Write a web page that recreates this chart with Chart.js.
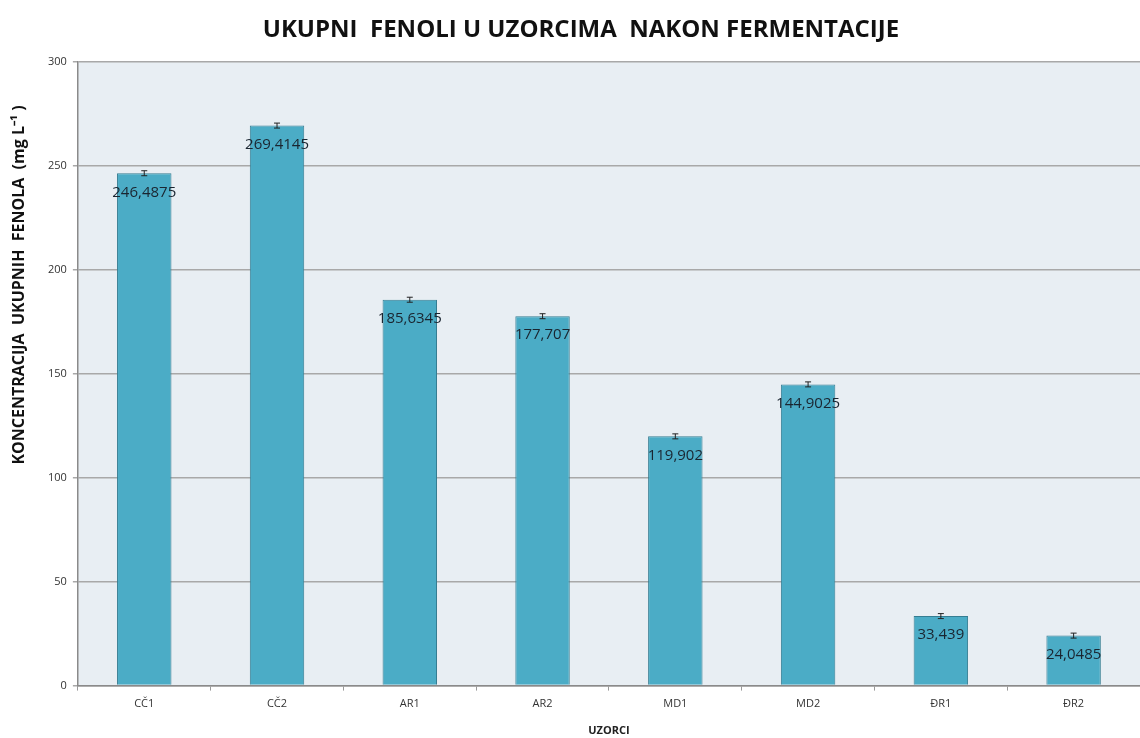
<!DOCTYPE html>
<html>
<head>
<meta charset="utf-8">
<script src="https://cdn.jsdelivr.net/npm/chart.js@4"></script>
<style>
  html, body { margin: 0; padding: 0; background: #fff; }
  #wrap { width: 1140px; height: 738px; position: relative; }
</style>
</head>
<body>
<div id="wrap"><canvas id="phenolChart" width="1140" height="738"></canvas></div>
<script>
const samples = ['CČ1', 'CČ2', 'AR1', 'AR2', 'MD1', 'MD2', 'ĐR1', 'ĐR2'];
const phenols = [246.4875, 269.4145, 185.6345, 177.707, 119.902, 144.9025, 33.439, 24.0485];
const errors = [1.2, 1.2, 1.2, 1.2, 1.2, 1.2, 1.2, 1.2];
const valueLabels = ['246,4875', '269,4145', '185,6345', '177,707', '119,902', '144,9025', '33,439', '24,0485'];
const chartTitle = 'UKUPNI  FENOLI U UZORCIMA  NAKON FERMENTACIJE';
const yTitle = 'KONCENTRACIJA  UKUPNIH  FENOLA  (mg L⁻¹ )';

// light plot background
const plotBg = {
  id: 'plotBg',
  beforeDraw(chart) {
    const { ctx, chartArea: a } = chart;
    ctx.save();
    ctx.fillStyle = '#e8eef3';
    ctx.fillRect(a.left, a.top, a.right - a.left, a.bottom - a.top);
    ctx.restore();
  }
};

// titles are placed off-centre in the original, so draw them by hand
const titles = {
  id: 'titles',
  afterDraw(chart) {
    const { ctx } = chart;
    ctx.save();
    ctx.fillStyle = '#111';
    ctx.textAlign = 'center';
    ctx.textBaseline = 'middle';
    ctx.font = 'bold 24px "Open Sans"';
    ctx.fillText(chartTitle, 581, 30);

    ctx.translate(19, 285);
    ctx.rotate(-Math.PI / 2);
    ctx.font = 'bold 16px "Open Sans"';
    ctx.fillText(yTitle, 0, 0);
    ctx.restore();
  }
};

// error bars + value labels
const barExtras = {
  id: 'barExtras',
  afterDatasetsDraw(chart) {
    const { ctx } = chart;
    const y = chart.scales.y;
    const meta = chart.getDatasetMeta(0);
    ctx.save();
    meta.data.forEach((bar, i) => {
      const top = y.getPixelForValue(phenols[i] + errors[i]);
      const bot = y.getPixelForValue(phenols[i] - errors[i]);
      ctx.strokeStyle = '#222';
      ctx.lineWidth = 1;
      ctx.beginPath();
      ctx.moveTo(bar.x, top); ctx.lineTo(bar.x, bot);
      ctx.moveTo(bar.x - 3, top); ctx.lineTo(bar.x + 3, top);
      ctx.moveTo(bar.x - 3, bot); ctx.lineTo(bar.x + 3, bot);
      ctx.stroke();

      ctx.fillStyle = '#1a2530';
      ctx.font = '15px "Open Sans"';
      ctx.textAlign = 'center';
      ctx.textBaseline = 'middle';
      ctx.fillText(valueLabels[i], bar.x, bar.y + 19);
    });
    ctx.restore();
  }
};

const canvas = document.getElementById('phenolChart');
const ctx = canvas.getContext('2d');

new Chart(ctx, {
  type: 'bar',
  data: {
    labels: samples,
    datasets: [{
      data: phenols,
      backgroundColor: '#4bacc6',
      borderColor: '#357d92',
      borderWidth: 1,
      categoryPercentage: 1,
      barPercentage: 0.41
    }]
  },
  options: {
    responsive: false,
    animation: false,
    layout: { padding: { top: 62, right: 0, left: 42, bottom: 1 } },
    plugins: {
      legend: { display: false },
      tooltip: { enabled: false },
      title: { display: false }
    },
    scales: {
      x: {
        grid: { display: true, drawOnChartArea: false, color: '#9a9a9a', tickLength: 5, offset: true },
        border: { color: '#8a8a8a', width: 1.5 },
        ticks: { color: '#333', font: { family: 'Open Sans', size: 11 }, padding: 7 },
        title: {
          display: true,
          text: 'UZORCI',
          color: '#222',
          font: { family: 'Open Sans', size: 11, weight: 'bold' },
          padding: { top: 6, bottom: 0 }
        }
      },
      y: {
        min: 0,
        max: 300,
        ticks: { stepSize: 50, color: '#333', font: { family: 'Open Sans', size: 11 }, padding: 6 },
        grid: { color: '#a8a8a8', lineWidth: 1.5, tickLength: 5 },
        border: { color: '#8a8a8a', width: 1.5 }
      }
    }
  },
  plugins: [plotBg, barExtras, titles]
});
</script>
</body>
</html>
